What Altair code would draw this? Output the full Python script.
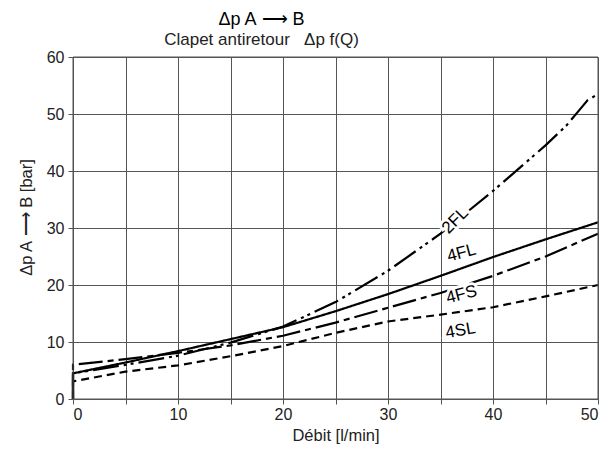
import altair as alt
import pandas as pd

series = ["2FL", "4FL", "4FS", "4SL"]
q_2fl = [0, 0, 5, 10, 15, 20, 25, 30, 35, 40, 45, 47, 48, 49, 50]
p_2fl = [0, 4.5, 6.0, 7.6, 9.9, 12.7, 17.0, 22.5, 29.0, 36.5, 44.5, 48.0, 50.2, 52.4, 53.5]
q_4 = [0, 0, 5, 10, 15, 20, 25, 30, 35, 40, 45, 50]
p_4fl = [0, 4.5, 6.4, 8.4, 10.5, 12.6, 15.4, 18.4, 21.6, 24.9, 28.0, 31.0]
p_4fs = [0, 6.0, 7.0, 8.1, 9.4, 11.1, 13.4, 16.0, 18.6, 21.6, 25.0, 29.0]
p_4sl = [0, 3.1, 4.8, 5.9, 7.5, 9.3, 11.6, 13.6, 14.8, 16.1, 18.0, 20.0]

label_text = ["2FL", "4FL", "4FS", "4SL"]
label_q = [36.4, 37.0, 37.0, 36.9]
label_p = [31.3, 25.6, 18.3, 12.0]
label_angle = [315, 345, 345, 350]

rows = []
for name, qs, ps in [("2FL", q_2fl, p_2fl), ("4FL", q_4, p_4fl),
                     ("4FS", q_4, p_4fs), ("4SL", q_4, p_4sl)]:
    for i, (q, p) in enumerate(zip(qs, ps)):
        rows.append({"serie": name, "Q": q, "dp": p, "ord": i})
df = pd.DataFrame(rows)

lab = pd.DataFrame({"t": label_text, "Q": label_q, "dp": label_p, "a": label_angle})

FONT = "Liberation Sans"
GRID = "#555"
NB = "\u00a0"
xs = alt.Scale(domain=[0, 50], nice=False)
ys = alt.Scale(domain=[0, 60], nice=False)

common = dict(grid=True, gridColor=GRID, gridWidth=1, domainColor=GRID, tickColor=GRID,
              tickSize=5, labelFontSize=16, labelColor="#222", titleFontSize=16.5,
              titleFontWeight="normal", titleColor="#222", labelFont=FONT, titleFont=FONT)
xaxis = alt.Axis(values=list(range(0, 51, 5)), labelExpr="datum.value % 10 == 0 ? datum.label : ''",
                 title="Débit [l/min]", labelPadding=2, titlePadding=5, **common)
yaxis = alt.Axis(values=list(range(0, 61, 5)), labelExpr="datum.value % 10 == 0 ? datum.label : ''",
                 title=f"Δp A{NB}⟶{NB}B [bar]", labelPadding=4, titlePadding=12, titleY=160,
                 **common)

lines = alt.Chart(df).mark_line(color="black", strokeWidth=2.2).encode(
    x=alt.X("Q:Q", scale=xs, axis=xaxis),
    y=alt.Y("dp:Q", scale=ys, axis=yaxis),
    order="ord:Q",
    detail="serie:N",
    strokeDash=alt.StrokeDash("serie:N", legend=None,
                              scale=alt.Scale(domain=series,
                                              range=[[26, 5, 3, 4, 3, 5], [1, 0], [24, 5, 6, 5], [8, 5]])),
)

halo = alt.Chart(lab).mark_text(fontSize=17, font=FONT, stroke="white", strokeWidth=6,
                                color="white").encode(
    x=alt.X("Q:Q", scale=xs), y=alt.Y("dp:Q", scale=ys), text="t:N", angle=alt.Angle("a:Q", scale=None))
texts = alt.Chart(lab).mark_text(fontSize=17, font=FONT, color="black").encode(
    x=alt.X("Q:Q", scale=xs), y=alt.Y("dp:Q", scale=ys), text="t:N", angle=alt.Angle("a:Q", scale=None))

frame = alt.Chart(pd.DataFrame({"a": [0]})).mark_rect(fill=None, stroke=GRID, strokeWidth=1).encode(
    x=alt.value(0), x2=alt.value(525), y=alt.value(0), y2=alt.value(342))

chart = alt.layer(lines, halo, texts, frame).properties(
    width=525, height=342,
    title=alt.TitleParams(text=f"Δp A{NB}⟶{NB}B",
                          subtitle=f"Clapet antiretour{NB}{NB}{NB}Δp f(Q)",
                          font=FONT, fontSize=18, fontWeight="normal", color="black",
                          subtitleFont=FONT, subtitleFontSize=17, subtitleColor="#222",
                          offset=1, subtitlePadding=3, anchor="middle", dx=-74),
    autosize="none",
    padding={"left": 65, "top": 49, "right": 4, "bottom": 52},
).configure_view(stroke=None)

chart.save("out.html", embed_options={"renderer": "svg", "actions": False})
